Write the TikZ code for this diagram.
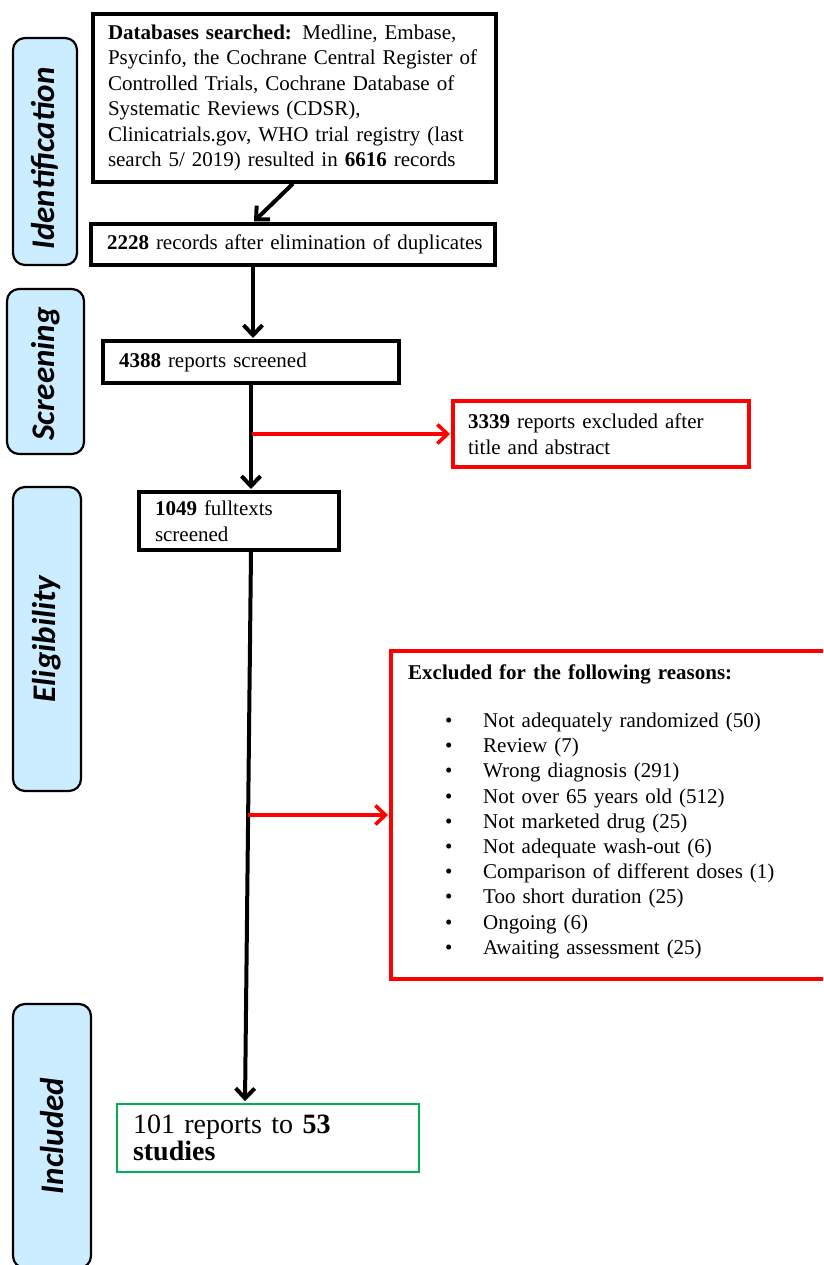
\documentclass[tikz,border=0pt]{standalone}
\usepackage{fontspec}
\setmainfont{Liberation Serif}
\newfontfamily\labfont{Carlito}
\usetikzlibrary{arrows.meta,calc}
\definecolor{phaseblue}{HTML}{CCECFF}
\definecolor{incgreen}{HTML}{00B050}
\begin{document}
\begin{tikzpicture}[x=1pt,y=-1pt,
  bx/.style={draw=black, line width=3.2pt, rectangle, inner ysep=0pt, align=left, font=\fontsize{21}{25.5}\selectfont},
  rbx/.style={bx, draw=red},
  gbx/.style={bx, draw=incgreen, line width=2.8pt},
  phase/.style={draw=black, line width=2.2pt, rounded corners=12pt, fill=phaseblue, rotate=90, inner sep=0pt, font=\labfont\bfseries\itshape\fontsize{33}{36}\selectfont},
  arr/.style={line width=4pt, line join=round, -{Straight Barb[length=10pt,width=19pt]}, shorten >=1.4pt},
  rarr/.style={arr, draw=red, line width=3.6pt}
]
\useasboundingbox (0,0) rectangle (823,1265);
\clip (0,0) rectangle (823,1265);

% phase labels
\node[phase, minimum width=227pt, minimum height=64pt] (pid) at (45,151.5) {Identification\hspace*{14pt}};
\node[phase, minimum width=165pt, minimum height=77pt] (pscr) at (45.5,371.5) {Screening\hspace*{5pt}};
\node[phase, minimum width=304pt, minimum height=68pt] (pel) at (47,639) {Eligibility};
\node[phase, minimum width=264pt, minimum height=78pt] (pinc) at (52,1136) {Included};

% boxes
\node[bx, minimum width=403pt, minimum height=168pt, inner xsep=15pt, text width=373pt] (db) at (294.5,98)
 {\mbox{\textbf{Databases searched:} Medline, Embase,}\\
  \mbox{Psycinfo, the Cochrane Central Register of}\\
  \mbox{Controlled Trials, Cochrane Database of}\\
  \mbox{Systematic Reviews (CDSR),}\\
  \mbox{Clinicatrials.gov, WHO trial registry (last}\\
  \mbox{search 5/ 2019) resulted in \textbf{6616} records}};
\node[bx, minimum width=404pt, minimum height=41pt, inner xsep=16pt, text width=372pt] (dup) at (293,244.5)
 {\mbox{\textbf{2228} records after elimination of duplicates}};
\node[bx, minimum width=296pt, minimum height=42pt, inner xsep=16pt, text width=264pt] (scr) at (251,362)
 {\textbf{4388} reports screened};
\node[rbx, minimum width=296pt, minimum height=66pt, inner xsep=15pt, text width=266pt] (ex1) at (601,434)
 {\mbox{\textbf{3339} reports excluded after}\\ title and abstract};
\node[bx, minimum width=200pt, minimum height=58pt, inner xsep=16pt, text width=168pt] (ft) at (239,521)
 {\textbf{1049} fulltexts\\ screened};
\node[rbx, minimum width=444pt, minimum height=328pt] (ex2) at (613,815) {};
\node[anchor=north west, inner sep=0pt, align=left, text width=410pt, font=\fontsize{21}{25.2}\selectfont] (ex2t) at (408,664.5)
 {\textbf{Excluded for the following reasons:}\\[22.8pt]
  \makebox[75pt][l]{\hspace{37pt}\textbullet}Not adequately randomized (50)\\
  \makebox[75pt][l]{\hspace{37pt}\textbullet}Review (7)\\
  \makebox[75pt][l]{\hspace{37pt}\textbullet}Wrong diagnosis (291)\\
  \makebox[75pt][l]{\hspace{37pt}\textbullet}Not over 65 years old (512)\\
  \makebox[75pt][l]{\hspace{37pt}\textbullet}Not marketed drug (25)\\
  \makebox[75pt][l]{\hspace{37pt}\textbullet}Not adequate wash-out (6)\\
  \makebox[75pt][l]{\hspace{37pt}\textbullet}Comparison of different doses (1)\\
  \makebox[75pt][l]{\hspace{37pt}\textbullet}Too short duration (25)\\
  \makebox[75pt][l]{\hspace{37pt}\textbullet}Ongoing (6)\\
  \makebox[75pt][l]{\hspace{37pt}\textbullet}Awaiting assessment (25)};
\node[gbx, minimum width=302pt, minimum height=68pt, inner xsep=16pt, text width=270pt, font=\fontsize{28}{25}\selectfont] (inc) at (268,1138)
 {101 reports to \textbf{53}\\ \textbf{studies}};

% connectors
\draw[arr] ([xshift=-1.5pt]db.south) -- ([xshift=-40pt]dup.north);
\draw[arr] ([xshift=-40pt]dup.south) -- ([xshift=2pt]scr.north);
\draw[arr] (scr.south) -- ([xshift=12pt]ft.north);
\coordinate (br1) at (252,434);
\draw[rarr] (br1) -- (ex1.west);
\draw[arr] ([xshift=12pt]ft.south) -- ([xshift=-23pt]inc.north);
\coordinate (br2) at (248,815);
\draw[rarr] (br2) -- (ex2.west);
\end{tikzpicture}
\end{document}
